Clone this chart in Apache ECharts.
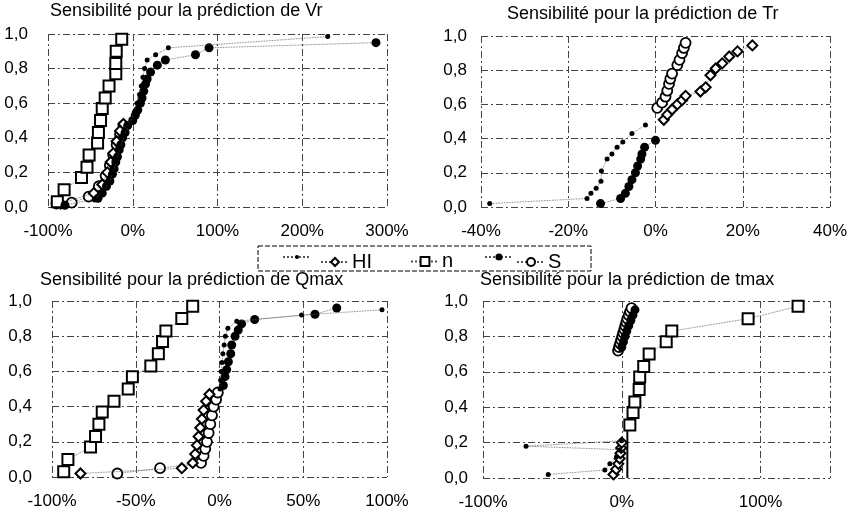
<!DOCTYPE html>
<html>
<head>
<meta charset="utf-8">
<script src="https://cdn.jsdelivr.net/npm/echarts@6/dist/echarts.min.js"></script>
<style>
html,body{margin:0;padding:0;background:#fff;}
#c{width:856px;height:515px;}
</style>
</head>
<body>
<div id="c"></div>
<script>
// ---------- titles & labels ----------
const TITLES = [
  'Sensibilité pour la prédiction de Vr',
  'Sensibilité pour la prédiction de Tr',
  'Sensibilité pour la prédiction de Qmax',
  'Sensibilité pour la prédiction de tmax'
];
const LEGEND_NAMES = ['HI_pt', 'HI', 'n', 'S_pt', 'S'];
const LEGEND_TEXT = { HI_pt: '', HI: 'HI', n: 'n', S_pt: '', S: 'S' };

// x axis ranges (percent) per panel: [min, max, interval]
const X_RANGES = [[-100, 300, 100], [-40, 40, 20], [-100, 100, 50], [-100, 150, 100]];
const Y_RANGE = [0, 1, 0.2];

// ---------- Vr ----------
const VR_HI_PT = [[-45,0.04],[-35,0.09],[-28,0.14],[-23,0.2],[-19,0.27],[-15,0.34],[-10,0.41],[-5,0.47],[2,0.55],[5,0.6],[8,0.65],[10,0.7],[12,0.75],[14,0.8],[17,0.85],[27,0.88],[42,0.92],[230,0.985]];
const VR_HI    = [[-85,0.02],[-46,0.08],[-36,0.13],[-30,0.2],[-26,0.26],[-23,0.31],[-19,0.38],[-15,0.44],[-11,0.48]];
const VR_N     = [[-89,0.03],[-81,0.1],[-60.5,0.17],[-54,0.23],[-51.5,0.3],[-41.5,0.37],[-40.5,0.43],[-38,0.5],[-36,0.57],[-32.5,0.63],[-28,0.7],[-20,0.77],[-20,0.83],[-19.5,0.9],[-13,0.97]];
const VR_S_PT  = [[-80,0.01],[-41,0.05],[-36,0.08],[-31,0.12],[-27,0.15],[-24,0.19],[-22,0.22],[-20,0.26],[-18,0.29],[-16,0.33],[-14,0.36],[-12,0.4],[-9,0.43],[-6,0.47],[0,0.5],[3,0.53],[6,0.56],[9,0.6],[11,0.63],[13,0.67],[15,0.71],[17,0.74],[21,0.78],[29,0.82],[38.5,0.85],[74,0.88],[90,0.92],[287,0.95]];
const VR_S     = [[-90,0.02],[-72,0.025],[-52,0.06],[-40,0.12],[-32,0.18],[-27,0.24],[-23,0.3],[-19,0.36],[-15,0.42],[-11,0.47]];

// ---------- Tr ----------
const TR_HI_PT = [[-38,0.02],[-15.7,0.05],[-14.8,0.08],[-13.6,0.11],[-12.5,0.15],[-12.4,0.21],[-11.1,0.28],[-10,0.31],[-8.8,0.35],[-7.5,0.38],[-5.4,0.43],[-2.3,0.48]];
const TR_HI    = [[1.9,0.51],[2.7,0.54],[3.8,0.57],[5,0.6],[6.1,0.625],[6.9,0.65],[10.3,0.675],[11.5,0.7],[12.6,0.77],[13.8,0.81],[15.3,0.84],[16.9,0.88],[18.8,0.91],[22.2,0.945]];
const TR_N     = [];
const TR_S_PT  = [[-12.6,0.02],[-8,0.05],[-6.9,0.08],[-6.1,0.12],[-5.4,0.16],[-4.6,0.2],[-4.1,0.24],[-3.4,0.28],[-3.1,0.31],[-2.5,0.35],[0,0.39]];
const TR_S     = [[0.4,0.58],[1.5,0.61],[2.3,0.645],[2.7,0.68],[3.1,0.72],[3.4,0.75],[3.8,0.78],[5,0.83],[5.5,0.86],[6.1,0.9],[6.5,0.93],[6.9,0.96]];

// ---------- Qmax ----------
const Q_HI_PT = [[0.3,0.5],[0.7,0.55],[1,0.6],[1.5,0.65],[2,0.7],[2.8,0.75],[3.5,0.8],[5,0.845],[10.3,0.885],[49,0.92],[97,0.95]];
const Q_HI    = [[-83,0.02],[-22.5,0.05],[-16,0.08],[-14.5,0.13],[-13.5,0.18],[-12.5,0.23],[-11.5,0.28],[-10.5,0.33],[-9.5,0.38],[-8,0.43],[-6,0.47]];
const Q_N     = [[-93,0.03],[-90.5,0.1],[-77,0.17],[-74,0.23],[-72,0.3],[-70,0.37],[-63,0.43],[-54.5,0.5],[-52,0.57],[-41,0.63],[-36.5,0.7],[-34,0.77],[-32,0.83],[-22.5,0.9],[-16,0.97]];
const Q_S_PT  = [[2.3,0.52],[3.3,0.57],[4.3,0.61],[5.3,0.655],[6.7,0.7],[7.3,0.75],[9.3,0.8],[11.2,0.835],[13.2,0.87],[21,0.895],[57,0.925],[70,0.96]];
const Q_S     = [[-61,0.02],[-35.5,0.05],[-11,0.08],[-9.5,0.12],[-8.5,0.16],[-7.5,0.2],[-6.5,0.25],[-5.5,0.3],[-4.5,0.35],[-3.5,0.4],[-2,0.44],[-1,0.48]];

// ---------- tmax ----------
const T_HI_PT = [[-53,0.02],[-12.2,0.045],[-8.6,0.08],[-3.8,0.12],[-1.4,0.16],[-69,0.18],[-0.2,0.21]];
const T_HI    = [[-6,0.02],[-4,0.05],[-2.5,0.08],[-1.5,0.11],[-1,0.14],[-0.5,0.17],[0,0.2]];
const T_N     = [[5.8,0.3],[8.1,0.37],[9.4,0.43],[12.5,0.5],[12.9,0.57],[15.8,0.63],[19.7,0.7],[32,0.77],[36,0.83],[91,0.9],[127,0.97]];
const T_N_STEM = [[4,0],[4,0.27]];
const T_S_PT  = [[0,0.74],[1.2,0.77],[2.4,0.8],[3.6,0.83],[5,0.86],[6.5,0.89],[8,0.92],[9.5,0.95]];
const T_S     = [[-2.7,0.72],[-2,0.74],[-1.2,0.76],[-0.5,0.78],[0.3,0.8],[1,0.82],[1.8,0.84],[2.5,0.86],[3.3,0.88],[4,0.9],[5,0.92],[6,0.94],[7,0.96]];

const PANELS = [
  { HI_pt: VR_HI_PT, HI: VR_HI, n: VR_N, S_pt: VR_S_PT, S: VR_S },
  { HI_pt: TR_HI_PT, HI: TR_HI, n: TR_N, S_pt: TR_S_PT, S: TR_S },
  { HI_pt: Q_HI_PT,  HI: Q_HI,  n: Q_N,  S_pt: Q_S_PT,  S: Q_S },
  { HI_pt: T_HI_PT,  HI: T_HI,  n: T_N,  S_pt: T_S_PT,  S: T_S }
];

// ---------- styles ----------
const FONT = 'Liberation Sans, Arial, sans-serif';
const GRIDS = [
  { left: 48,  top: 34,  width: 339, height: 173 },
  { left: 481, top: 36,  width: 349, height: 171 },
  { left: 52,  top: 301, width: 335, height: 176 },
  { left: 483, top: 301, width: 347, height: 177 }
];
const TITLE_POS = [
  { left: 50, top: 2 }, { left: 507, top: 5 }, { left: 40, top: 271 }, { left: 480, top: 271 }
];
const Y_LABEL_MARGIN = [20, 14, 20, 15];

const STYLE = {
  HI_pt: { symbol: 'circle',  size: 5,  fill: '#000', bw: 0 },
  HI:    { symbol: 'diamond', size: 10, fill: '#fff', bw: 2 },
  n:     { symbol: 'rect',    size: 11, fill: '#fff', bw: 2 },
  S_pt:  { symbol: 'circle',  size: 9,  fill: '#000', bw: 0 },
  S:     { symbol: 'circle',  size: 10, fill: '#fff', bw: 1.8 }
};
const DRAW_ORDER = ['S', 'HI', 'n', 'S_pt', 'HI_pt'];

const gridLine = { color: '#444', width: 1, type: [7, 3, 2, 3] };

const series = [];
PANELS.forEach((p, gi) => {
  DRAW_ORDER.forEach((key, k) => {
    const st = STYLE[key];
    series.push({
      name: key,
      type: 'line',
      xAxisIndex: gi, yAxisIndex: gi,
      data: p[key],
      symbol: st.symbol,
      symbolSize: st.size,
      showAllSymbol: true,
      animation: false,
      z: 2 + k,
      lineStyle: { color: '#555', width: 0.8, type: 'dotted' },
      itemStyle: { color: st.fill, borderColor: '#000', borderWidth: st.bw },
      emphasis: { disabled: true }
    });
  });
});
series.push({
  name: 'n_stem', type: 'line', xAxisIndex: 3, yAxisIndex: 3,
  data: T_N_STEM, symbol: 'none', animation: false,
  lineStyle: { color: '#000', width: 2 }
});

const xAxes = X_RANGES.map((r, gi) => ({
  type: 'value', gridIndex: gi, min: r[0], max: r[1], interval: r[2],
  axisLine: { show: false }, axisTick: { show: false },
  splitLine: { show: true, lineStyle: gridLine },
  axisLabel: {
    formatter: v => v + '%', fontSize: 17, color: '#000', fontFamily: FONT, margin: 16,
    showMaxLabel: gi !== 3
  }
}));
const yAxes = GRIDS.map((g, gi) => ({
  type: 'value', gridIndex: gi, min: Y_RANGE[0], max: Y_RANGE[1], interval: Y_RANGE[2],
  axisLine: { show: false }, axisTick: { show: false },
  splitLine: { show: true, lineStyle: gridLine },
  axisLabel: {
    formatter: v => v.toFixed(1).replace('.', ','), fontSize: 17, color: '#000',
    fontFamily: FONT, margin: Y_LABEL_MARGIN[gi]
  }
}));

const LEGEND_LEFT = [282, 320, 410, 484, 516];
const LEGEND_ICON_H = [5, 10, 11, 9, 10];
const legends = LEGEND_NAMES.map((nm, i) => ({
  data: [nm], left: LEGEND_LEFT[i], top: 258 - LEGEND_ICON_H[i] / 2 - 1,
  itemWidth: 28, itemHeight: LEGEND_ICON_H[i], padding: 0, selectedMode: false,
  formatter: name => LEGEND_TEXT[name],
  textStyle: { fontSize: 20, color: '#000', fontFamily: FONT, padding: [0, 0, 0, -2] }
}));

const chart = echarts.init(document.getElementById('c'), null, { renderer: 'canvas' });
chart.setOption({
  backgroundColor: '#fff',
  animation: false,
  title: TITLES.map((t, i) => ({
    text: t, left: TITLE_POS[i].left, top: TITLE_POS[i].top, padding: 0,
    textStyle: { fontSize: 18, fontWeight: 'normal', color: '#000', fontFamily: FONT }
  })),
  legend: legends,
  grid: GRIDS,
  xAxis: xAxes,
  yAxis: yAxes,
  series: series,
  graphic: [{
    type: 'rect', silent: true, z: 100,
    shape: { x: 258, y: 246, width: 333, height: 25 },
    style: { fill: 'none', stroke: '#000', lineWidth: 1, lineDash: [5, 2] }
  }]
});
</script>
</body>
</html>
